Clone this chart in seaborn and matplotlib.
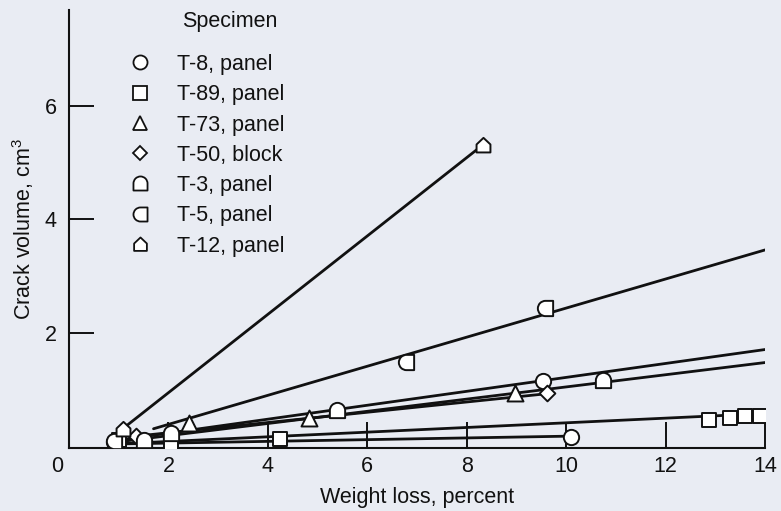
import numpy as np
import pandas as pd
import matplotlib
matplotlib.use("Agg")
import matplotlib.pyplot as plt
import matplotlib.path as mpath
import matplotlib.transforms as mtransforms
from matplotlib.lines import Line2D
import seaborn as sns

# ---- measured points per specimen (weight loss %, crack volume cm^3) ----
t8_x = [0.90, 9.54, 10.10]
t8_y = [0.06, 1.15, 0.16]
t89_x = [1.00, 2.05, 4.24, 12.87, 13.29, 13.59, 13.90]
t89_y = [0.10, 0.02, 0.12, 0.46, 0.49, 0.53, 0.53]
t73_x = [0.95, 2.41, 4.82, 8.98]
t73_y = [0.04, 0.41, 0.49, 0.94]
t50_x = [1.35, 9.62]
t50_y = [0.17, 0.94]
t3_x = [1.50, 2.05, 5.40, 10.75]
t3_y = [0.10, 0.22, 0.64, 1.17]
t5_x = [0.90, 6.77, 9.58]
t5_y = [0.08, 1.48, 2.44]
t12_x = [1.08, 8.33]
t12_y = [0.30, 5.32]

# ---- fitted trend lines: start/end of each ----
fit_name = ["T-8", "T-89", "T-73", "T-50", "T-3", "T-5", "T-12"]
fit_x0 = [0.90, 0.90, 1.00, 1.35, 1.00, 1.70, 1.08]
fit_y0 = [0.03, 0.03, 0.07, 0.17, 0.10, 0.30, 0.30]
fit_x1 = [10.10, 14.00, 14.00, 9.62, 14.00, 14.00, 8.33]
fit_y1 = [0.17, 0.57, 1.47, 0.92, 1.70, 3.46, 5.32]

legend_title = "Specimen"
legend_labels = ["T-8, panel", "T-89, panel", "T-73, panel", "T-50, block",
                 "T-3, panel", "T-5, panel", "T-12, panel"]

x_ticks = [0, 2, 4, 6, 8, 10, 12, 14]
y_ticks = [2, 4, 6]

FS = 15.5
INK = "#111111"


def _closed(verts, codes):
    return mpath.Path(np.asarray(verts, float), codes)


def dome_marker():
    arc = mpath.Path.arc(0, 180)
    verts = [(-1, -1), (1, -1), (1, 0)] + list(arc.vertices[1:]) + [(-1, -1)]
    codes = [mpath.Path.MOVETO, mpath.Path.LINETO, mpath.Path.LINETO] + \
        list(arc.codes[1:]) + [mpath.Path.CLOSEPOLY]
    return _closed(verts, codes)


def dleft_marker():
    arc = mpath.Path.arc(90, 270)
    verts = [(1, -1), (1, 1), (0, 1)] + list(arc.vertices[1:]) + [(1, -1)]
    codes = [mpath.Path.MOVETO, mpath.Path.LINETO, mpath.Path.LINETO] + \
        list(arc.codes[1:]) + [mpath.Path.CLOSEPOLY]
    return _closed(verts, codes)


def house_marker():
    verts = [(-1, -1), (1, -1), (1, 0.15), (0, 1.1), (-1, 0.15), (-1, -1)]
    codes = [mpath.Path.MOVETO] + [mpath.Path.LINETO] * 4 + [mpath.Path.CLOSEPOLY]
    return _closed(verts, codes)


markers = ["o", "s", "^", "D", dome_marker(), dleft_marker(), house_marker()]
marker_sizes = [11, 10.5, 11.5, 8, 11, 11, 11]

sns.set_theme(style="ticks")
bg = "#e9ecf3"
plt.rcParams["font.family"] = ["Liberation Sans", "DejaVu Sans"]
plt.rcParams["mathtext.fontset"] = "custom"
plt.rcParams["mathtext.rm"] = "Liberation Sans"
plt.rcParams["mathtext.it"] = "Liberation Sans"

fig = plt.figure(figsize=(7.81, 5.11), dpi=100, facecolor=bg)
ax = fig.add_axes([69 / 781, 63 / 511, 696 / 781, 438 / 511])
ax.set_facecolor(bg)

# trend lines
lines = pd.DataFrame({
    "name": np.repeat(fit_name, 2),
    "x": np.ravel(np.column_stack([fit_x0, fit_x1])),
    "y": np.ravel(np.column_stack([fit_y0, fit_y1])),
})
sns.lineplot(data=lines, x="x", y="y", units="name", estimator=None, sort=False,
             color=INK, linewidth=2.0, ax=ax, zorder=2)

# measured points
series = [(t8_x, t8_y), (t89_x, t89_y), (t73_x, t73_y), (t50_x, t50_y),
          (t3_x, t3_y), (t5_x, t5_y), (t12_x, t12_y)]
for (xs, ys), m, ms in zip(series, markers, marker_sizes):
    sns.scatterplot(x=xs, y=ys, marker=m, s=ms ** 2, facecolor="white",
                    edgecolor=INK, linewidth=1.4, ax=ax, zorder=3)

ax.set_xlim(0, 14)
ax.set_ylim(-0.04, 7.7)

for side in ["top", "right"]:
    ax.spines[side].set_visible(False)
for side in ["left", "bottom"]:
    ax.spines[side].set_linewidth(1.5)
    ax.spines[side].set_color(INK)

ax.set_xticks(x_ticks)
ax.set_xticklabels([str(v) for v in x_ticks])
ax.set_yticks(y_ticks)
ax.set_yticklabels([str(v) for v in y_ticks])
ax.tick_params(axis="x", direction="in", length=19, width=1.4, color=INK,
               labelsize=FS, pad=6, labelcolor=INK)
ax.tick_params(axis="y", direction="in", length=18, width=1.4, color=INK,
               labelsize=FS, pad=9, labelcolor=INK)
# origin label sits left of the corner
zero_lbl = ax.get_xticklabels()[0]
zero_lbl.set_transform(zero_lbl.get_transform() +
                       mtransforms.ScaledTranslation(-12 / 100, 0, fig.dpi_scale_trans))

ax.set_xlabel("Weight loss, percent", fontsize=FS, color=INK)
ax.set_ylabel("Crack volume, cm$^3$", fontsize=FS, color=INK)
ax.xaxis.set_label_coords(0.5, -0.089)
ax.yaxis.set_label_coords(-0.047, 0.5)

handles = [Line2D([], [], linestyle="none", marker=m, markersize=ms * 0.92,
                  markerfacecolor="white", markeredgecolor=INK,
                  markeredgewidth=1.3)
           for m, ms in zip(markers, marker_sizes)]
leg = ax.legend(handles, legend_labels, frameon=False,
                loc="upper left", bbox_to_anchor=(129 / 781, 1 - 54 / 511),
                bbox_transform=fig.transFigure, fontsize=FS,
                handlelength=1.0, handletextpad=1.22, labelspacing=0.43,
                borderpad=0, borderaxespad=0)
for t in leg.get_texts():
    t.set_color(INK)
fig.text(182 / 781, 1 - 21 / 511, legend_title, fontsize=FS, color=INK,
         ha="left", va="center")

fig.savefig("out.png", dpi=100, facecolor=bg)
